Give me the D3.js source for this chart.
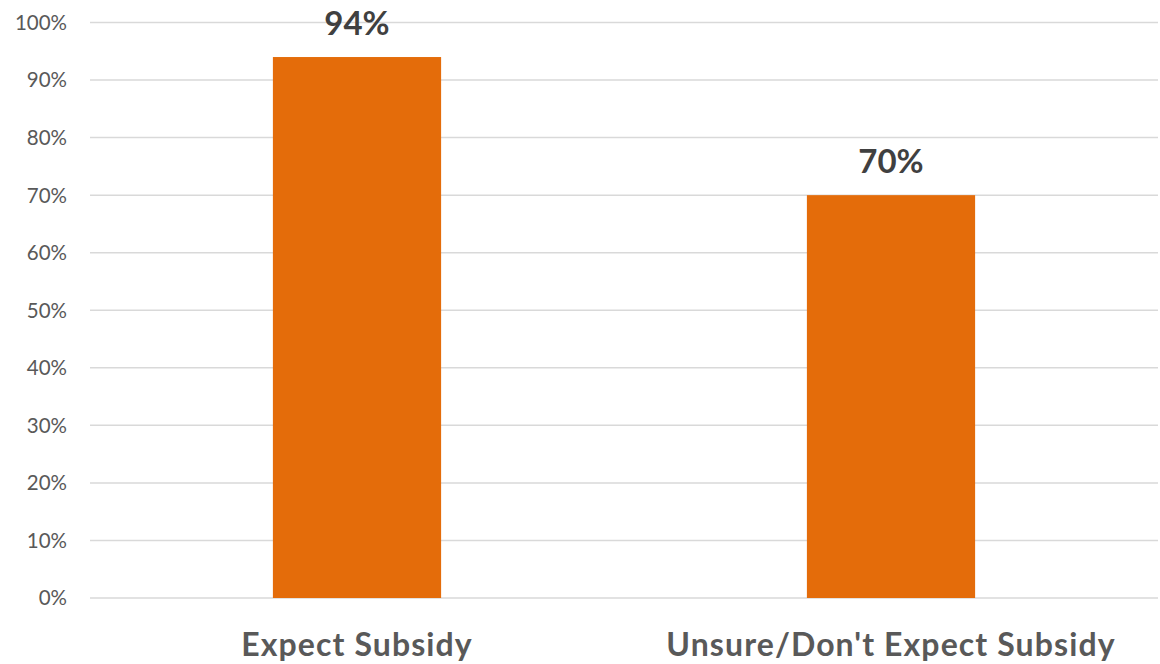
<!DOCTYPE html>
<html>
<head>
<meta charset="utf-8">
<script src="https://cdn.jsdelivr.net/npm/d3@7"></script>
<style>
  body { margin: 0; background: #fff; }
  svg { display: block; font-family: Lato, "Open Sans", sans-serif; }
</style>
</head>
<body>
<svg id="chart" width="1160" height="664"></svg>
<script>
const categories = ["Expect Subsidy", "Unsure/Don't Expect Subsidy"];
const values = [94, 70];
const yTicks = [0, 10, 20, 30, 40, 50, 60, 70, 80, 90, 100];

const svg = d3.select("#chart");
const plotLeft = 90, plotRight = 1158, plotTop = 22.5, plotBottom = 598;

const x = d3.scaleBand()
  .domain(categories)
  .range([plotLeft, plotRight])
  .paddingInner(0.685)
  .paddingOuter(0.3425);

const y = d3.scaleLinear()
  .domain([0, 100])
  .range([plotBottom, plotTop]);

// gridlines
svg.append("g")
  .selectAll("line")
  .data(yTicks)
  .enter()
  .append("line")
  .attr("x1", plotLeft)
  .attr("x2", plotRight)
  .attr("y1", d => y(d))
  .attr("y2", d => y(d))
  .attr("stroke", "#d9d9d9")
  .attr("stroke-width", 1.5);

// y axis labels
svg.append("g")
  .selectAll("text")
  .data(yTicks)
  .enter()
  .append("text")
  .attr("x", 67)
  .attr("y", d => y(d))
  .attr("dy", "0.36em")
  .attr("text-anchor", "end")
  .attr("font-size", 20.5)
  .attr("fill", "#595959")
  .text(d => d + "%");

// bars
const data = categories.map((c, i) => ({ cat: c, val: values[i] }));
svg.append("g")
  .selectAll("rect")
  .data(data)
  .enter()
  .append("rect")
  .attr("x", d => x(d.cat))
  .attr("y", d => y(d.val))
  .attr("width", x.bandwidth())
  .attr("height", d => y(0) - y(d.val))
  .attr("fill", "#e46c0a");

// value labels
svg.append("g")
  .selectAll("text")
  .data(data)
  .enter()
  .append("text")
  .attr("x", d => x(d.cat) + x.bandwidth() / 2)
  .attr("y", d => y(d.val) - 22)
  .attr("text-anchor", "middle")
  .attr("font-size", 33)
  .attr("font-weight", "bold")
  .attr("fill", "#404040")
  .text(d => d.val + "%");

// category labels
svg.append("g")
  .selectAll("text")
  .data(categories)
  .enter()
  .append("text")
  .attr("x", d => x(d) + x.bandwidth() / 2)
  .attr("y", 656)
  .attr("text-anchor", "middle")
  .attr("font-size", 32)
  .attr("font-weight", "bold")
  .attr("letter-spacing", 1.1)
  .attr("fill", "#595959")
  .text(d => d);
</script>
</body>
</html>
